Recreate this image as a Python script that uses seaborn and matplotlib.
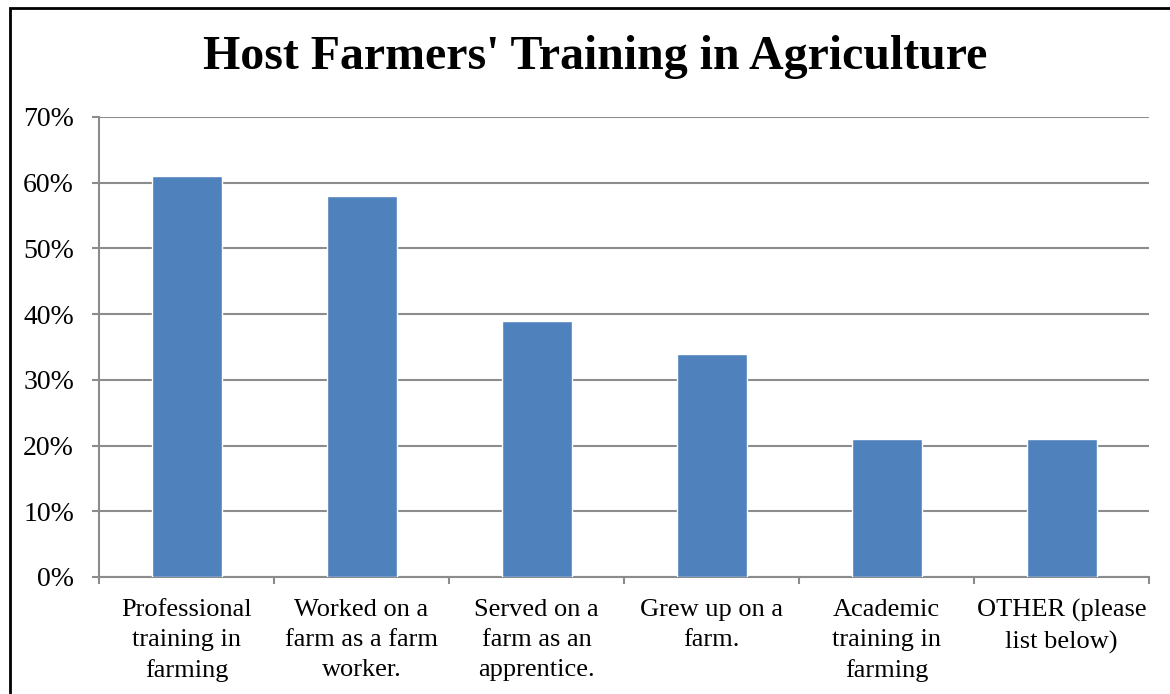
import matplotlib
matplotlib.use("Agg")
import matplotlib.pyplot as plt
import seaborn as sns
import pandas as pd
from matplotlib.patches import Rectangle
from matplotlib.ticker import FuncFormatter, MultipleLocator

categories = ["Professional\ntraining in\nfarming", "Worked on a\nfarm as a farm\nworker.",
              "Served on a\nfarm as an\napprentice.", "Grew up on a\nfarm.",
              "Academic\ntraining in\nfarming", "OTHER (please\nlist below)"]
values = [61, 58, 39, 34, 21, 21]

sns.set_theme(style="white")
plt.rcParams['font.family'] = ['Liberation Serif', 'DejaVu Serif']
plt.rcParams['text.color'] = 'black'

df = pd.DataFrame({"cat": categories, "val": values})

fig = plt.figure(figsize=(11.7, 6.94), dpi=100)
ax = fig.add_axes([99/1170, 1-577/694, (1149-99)/1170, (577-117)/694])

sns.barplot(data=df, x="cat", y="val", color="#4F81BD", width=0.4, saturation=1, ax=ax, zorder=3)

ax.set_ylim(0, 70)
ax.set_xlim(-0.5, len(categories)-0.5)
ax.yaxis.set_major_locator(MultipleLocator(10))
ax.yaxis.set_major_formatter(FuncFormatter(lambda v, p: f"{int(v)}%"))
ax.grid(axis="y", color="#8c8c8c", linewidth=1.5, zorder=0)
ax.set_axisbelow(True)
ax.set_xlabel("")
ax.set_ylabel("")

for s in ["top", "right"]:
    ax.spines[s].set_visible(False)
for s in ["left", "bottom"]:
    ax.spines[s].set_color("#8c8c8c")
    ax.spines[s].set_linewidth(1.5)

ax.tick_params(axis="y", which="major", left=True, length=5, width=1.5, color="#8c8c8c",
               labelsize=20, pad=13, labelcolor="black")
ax.set_xticks(range(len(categories)))
ax.set_xticklabels(categories, fontsize=19, linespacing=1.46)
ax.tick_params(axis="x", which="major", bottom=False, pad=10, labelcolor="black")
ax.set_xticks([i - 0.5 for i in range(len(categories)+1)], minor=True)
ax.tick_params(axis="x", which="minor", bottom=True, length=5, width=1.5, color="#8c8c8c")

fig.text(595/1170, 1-57/694, "Host Farmers' Training in Agriculture", ha="center", va="center",
         fontsize=34.5, fontweight="bold", color="black")

fig.patches.append(Rectangle((10/1170, -0.1), 1.2, 1-8/694+0.1, transform=fig.transFigure,
                             fill=False, edgecolor="black", linewidth=2, figure=fig))

fig.savefig("out.png", dpi=100)
